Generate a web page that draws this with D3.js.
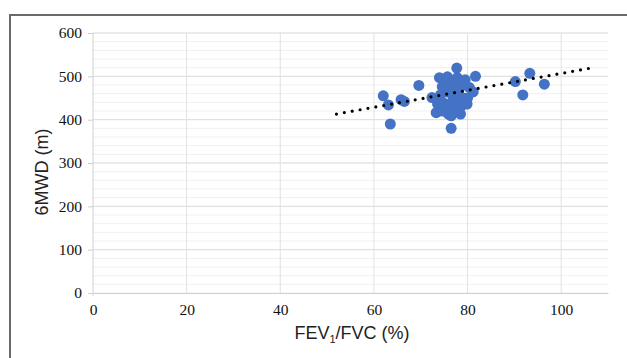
<!DOCTYPE html>
<meta charset="utf-8">
<style>
body { margin: 0; background: #fff; }
svg { display: block; }
.tick text { font-family: "Liberation Serif", "Times New Roman", serif; font-size: 15.5px; fill: #111; }
.title { font-family: "Liberation Sans", Arial, sans-serif; font-size: 18px; fill: #222; }
</style>
<svg width="627" height="358"></svg>
<script src="https://cdn.jsdelivr.net/npm/d3@7"></script>
<script>

// FEV1/FVC (%) and 6MWD (m)
var fev = [62.0, 63.1, 63.5, 65.8, 66.5, 69.6, 72.4, 76.5, 77.7, 81.7, 90.2, 93.3, 91.8, 96.4, 80.0,
           74.0, 75.1, 75.7, 76.5, 77.8, 78.7, 79.5, 80.4, 81.2, 74.2, 75.5, 76.8, 78.0, 79.1,
           73.6, 74.8, 76.1, 77.4, 78.7, 79.9, 73.3, 74.6, 75.9, 77.2, 78.5, 76.5, 77.6, 74.6];
var mwd = [455, 434, 390, 446, 442, 479, 451, 380, 519, 500, 488, 507, 457, 482, 450,
           497, 487, 499, 483, 497, 478, 492, 474, 464, 457, 464, 455, 462, 450,
           436, 439, 436, 441, 432, 436, 416, 420, 413, 422, 413, 409, 473, 476];

// dotted trend line ends
var trendX = [52, 106.3];
var trendY = [413, 519];

var xTicks = [0, 20, 40, 60, 80, 100];
var yTicks = [0, 100, 200, 300, 400, 500, 600];
var yMinor = d3.range(0, 601, 20);

var svg = d3.select("svg"),
    margin = {top: 33, right: 19, bottom: 65, left: 93},
    width = +svg.attr("width") - margin.left - margin.right,
    height = +svg.attr("height") - margin.top - margin.bottom;

// outer frame (clipped at right and bottom in the picture)
svg.append("path")
    .attr("d", "M10,360 L10,15 L630,15")
    .attr("fill", "none")
    .attr("stroke", "#6a6a6a")
    .attr("stroke-width", 2);

var g = svg.append("g")
    .attr("transform", "translate(" + margin.left + "," + margin.top + ")");

var x = d3.scaleLinear().domain([0, 110]).range([0, width]);
var y = d3.scaleLinear().domain([0, 600]).range([height, 0]);

// minor horizontal gridlines
g.append("g").selectAll("line")
  .data(yMinor)
  .enter().append("line")
    .attr("x1", 0).attr("x2", width)
    .attr("y1", function(d) { return y(d); })
    .attr("y2", function(d) { return y(d); })
    .attr("stroke", "#f0f0f0");

// major gridlines
g.append("g").selectAll("line")
  .data(yTicks.slice(1))
  .enter().append("line")
    .attr("x1", 0).attr("x2", width)
    .attr("y1", function(d) { return y(d); })
    .attr("y2", function(d) { return y(d); })
    .attr("stroke", "#dedede");

g.append("g").selectAll("line")
  .data(xTicks.slice(1))
  .enter().append("line")
    .attr("y1", 0).attr("y2", height)
    .attr("x1", function(d) { return x(d); })
    .attr("x2", function(d) { return x(d); })
    .attr("stroke", "#e2e2e2");

// axes
var xAxis = g.append("g")
    .attr("transform", "translate(0," + height + ")")
    .call(d3.axisBottom(x).tickValues(xTicks).tickSize(0).tickPadding(11));
xAxis.select(".domain").attr("stroke", "#cfcfcf");

var yAxis = g.append("g")
    .call(d3.axisLeft(y).tickValues(yTicks).tickSize(5).tickPadding(6));
yAxis.select(".domain").attr("stroke", "#cfcfcf").attr("d", "M0,0V" + (height + 3));
yAxis.selectAll(".tick line").attr("stroke", "#cfcfcf");

// points
g.append("g").selectAll("circle")
  .data(fev)
  .enter().append("circle")
    .attr("cx", function(d) { return x(d); })
    .attr("cy", function(d, i) { return y(mwd[i]); })
    .attr("r", 5.5)
    .attr("fill", "#4472c4");

// trend line
var line = d3.line()
    .x(function(d) { return x(d); })
    .y(function(d, i) { return y(trendY[i]); });

g.append("path")
    .datum(trendX)
    .attr("fill", "none")
    .attr("stroke", "#000")
    .attr("stroke-width", 3.2)
    .attr("stroke-linecap", "round")
    .attr("stroke-dasharray", "0 8")
    .attr("d", line);

// axis titles
var xt = svg.append("text")
    .attr("class", "title")
    .attr("x", 352)
    .attr("y", 339)
    .attr("text-anchor", "middle");
xt.append("tspan").text("FEV");
xt.append("tspan").attr("font-size", "11px").attr("dy", 4).text("1");
xt.append("tspan").attr("dy", -4).text("/FVC (%)");

svg.append("text")
    .attr("class", "title")
    .attr("transform", "translate(48,172) rotate(-90)")
    .attr("text-anchor", "middle")
    .text("6MWD (m)");

</script>
